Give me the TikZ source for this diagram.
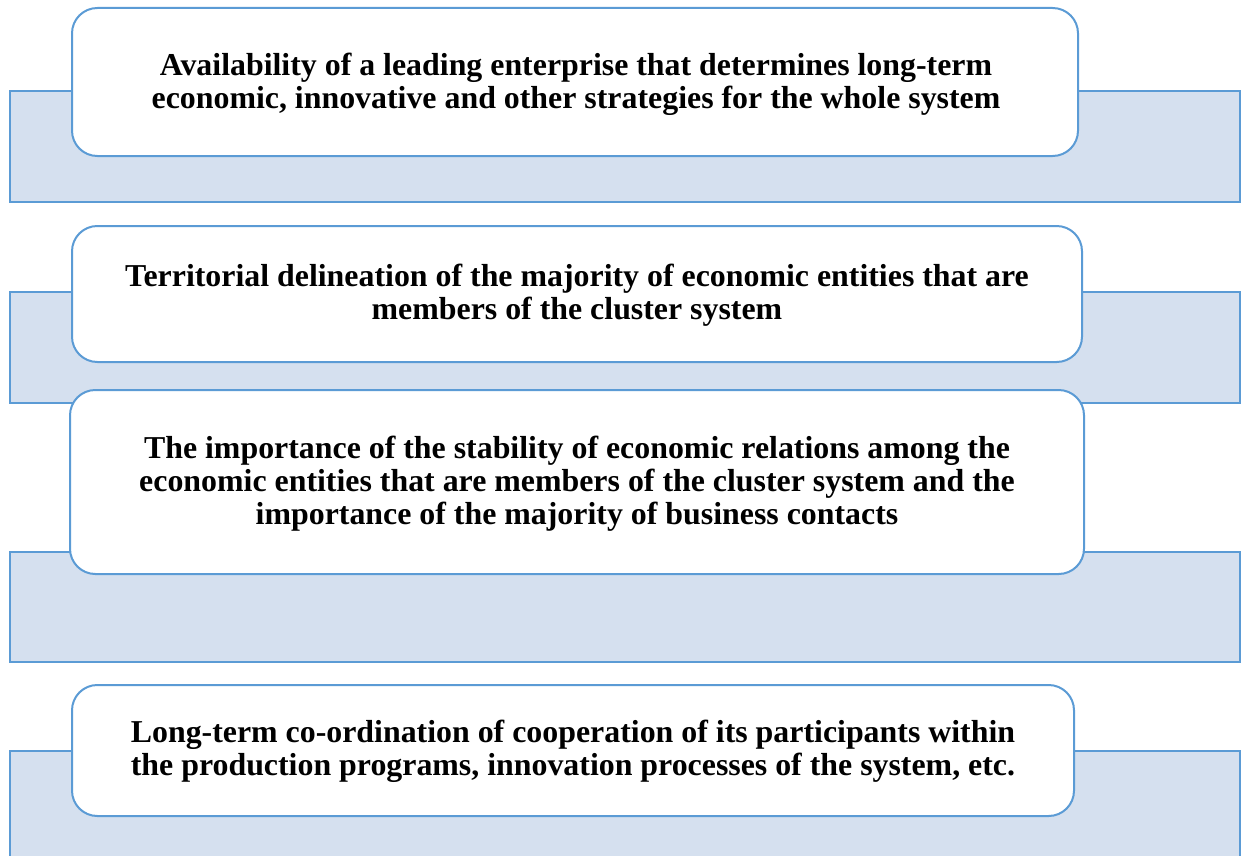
\documentclass[tikz,border=0pt]{standalone}
\usepackage{fontspec}
\setmainfont{Liberation Serif}
\definecolor{boxblue}{RGB}{91,155,213}
\definecolor{backblue}{RGB}{213,224,239}
\tikzset{
  backbar/.style={draw=boxblue, fill=backblue, line width=1.5pt},
  textbox/.style={draw=boxblue, fill=white, line width=1.5pt, rounded corners=19pt},
  boxtext/.style={align=center, font=\bfseries\fontsize{23.9}{24.8}\selectfont}
}
\begin{document}
\begin{tikzpicture}[x=0.75pt, y=-0.75pt]
  \useasboundingbox (0,0) rectangle (1242,856);
  \clip (0,0) rectangle (1242,856);
  % first feature
  \draw[backbar] (10,91) rectangle (1240,202);
  \draw[textbox] (72,8) rectangle (1078,156);
  \node[boxtext] (leader) at (576,84) {Availability of a leading enterprise that determines long-term\\economic, innovative and other strategies for the whole system};
  % second feature
  \draw[backbar] (10,292) rectangle (1240,403);
  \draw[textbox] (72,226) rectangle (1082,362);
  \node[boxtext] (territory) at (577,295) {Territorial delineation of the majority of economic entities that are\\members of the cluster system};
  % third feature
  \draw[backbar] (10,552) rectangle (1240,662);
  \draw[textbox] (70,390) rectangle (1084,574);
  \node[boxtext] (relations) at (577,484) {The importance of the stability of economic relations among the\\economic entities that are members of the cluster system and the\\importance of the majority of business contacts};
  % fourth feature
  \draw[backbar] (10,751) rectangle (1240,880);
  \draw[textbox] (72,685) rectangle (1074,816);
  \node[boxtext] (coordination) at (573,751) {Long-term co-ordination of cooperation of its participants within\\the production programs, innovation processes of the system, etc.};
\end{tikzpicture}
\end{document}
